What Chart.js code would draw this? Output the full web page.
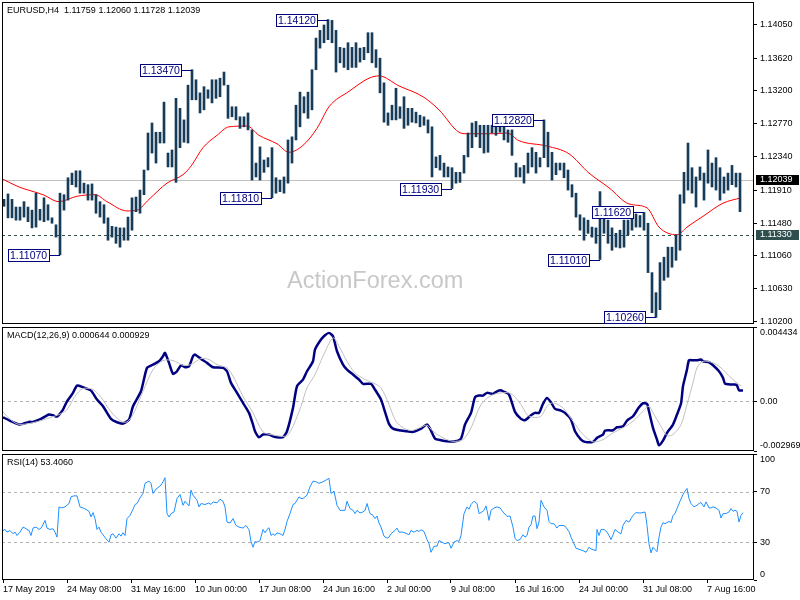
<!DOCTYPE html>
<html lang="en">
<head>
<meta charset="UTF-8">
<title>EURUSD H4</title>
<script src="https://cdn.jsdelivr.net/npm/chart.js"></script>
<style>
    body { margin: 0; background: #fff; }
    #wrap { position: relative; width: 800px; height: 600px; }
    canvas { position: absolute; left: 0; }
    #priceCanvas { top: 0; }
    #macdCanvas { top: 325px; }
    #rsiCanvas { top: 452px; }
</style>
</head>
<body>
<div id="wrap">
    <canvas id="priceCanvas" width="800" height="325"></canvas>
    <canvas id="macdCanvas" width="800" height="127"></canvas>
    <canvas id="rsiCanvas" width="800" height="148"></canvas>
</div>

<script>
    // time axis (bar index of each H4 label)
    const timeLabels = ['17 May 2019', '24 May 08:00', '31 May 16:00', '10 Jun 00:00', '17 Jun 08:00', '24 Jun 16:00',
        '2 Jul 00:00', '9 Jul 08:00', '16 Jul 16:00', '24 Jul 00:00', '31 Jul 08:00', '7 Aug 16:00'];
    const labelBars = [0, 32, 64, 96, 128, 160, 192, 224, 256, 288, 320, 352];

    // price ticks on the right axis
    const priceTicks = [1.10200, 1.10630, 1.11060, 1.11480, 1.11910, 1.12340, 1.12770, 1.13200, 1.13620, 1.14050];
    const macdTicks = [-0.002969, 0, 0.004434];
    const rsiTicks = [0, 30, 70, 100];

    // price bars, one entry per pair of H4 bars
    const highs = [
        1.1179, 1.1186, 1.1179, 1.1169, 1.1169, 1.1176, 1.1169, 1.1165, 1.1187, 1.1166,
        1.1181, 1.1172, 1.1155, 1.1146, 1.1187, 1.1185, 1.1207, 1.1213, 1.1216, 1.1216,
        1.1200, 1.1198, 1.1199, 1.1185, 1.1176, 1.1172, 1.1155, 1.1144, 1.1143, 1.1142,
        1.1142, 1.1156, 1.1181, 1.1182, 1.1191, 1.1217, 1.1265, 1.1278, 1.1266, 1.1266,
        1.1305, 1.1239, 1.1243, 1.1310, 1.1297, 1.1282, 1.1327, 1.1347, 1.1334, 1.1317,
        1.1325, 1.1321, 1.1334, 1.1334, 1.1336, 1.1344, 1.1327, 1.1299, 1.1299, 1.1286,
        1.1286, 1.1291, 1.1269, 1.1226, 1.1247, 1.1230, 1.1233, 1.1246, 1.1207, 1.1204,
        1.1208, 1.1256, 1.1260, 1.1301, 1.1318, 1.1312, 1.1318, 1.1347, 1.1388, 1.1398,
        1.1405, 1.1412, 1.1411, 1.1398, 1.1376, 1.1375, 1.1382, 1.1376, 1.1382, 1.1375,
        1.1376, 1.1395, 1.1395, 1.1373, 1.1362, 1.1330, 1.1291, 1.1301, 1.1323, 1.1299,
        1.1312, 1.1297, 1.1297, 1.1292, 1.1288, 1.1286, 1.1282, 1.1273, 1.1234, 1.1236,
        1.1226, 1.1221, 1.1220, 1.1214, 1.1214, 1.1236, 1.1265, 1.1278, 1.1280, 1.1275,
        1.1275, 1.1275, 1.1275, 1.1278, 1.1280, 1.1275, 1.1269, 1.1269, 1.1226, 1.1220,
        1.1223, 1.1239, 1.1246, 1.1240, 1.1233, 1.1282, 1.1266, 1.1240, 1.1226, 1.1226,
        1.1226, 1.1217, 1.1198, 1.1187, 1.1159, 1.1155, 1.1152, 1.1143, 1.1142, 1.1189,
        1.1156, 1.1152, 1.1142, 1.1135, 1.1139, 1.1152, 1.1152, 1.1156, 1.1160, 1.1158,
        1.1162, 1.1148, 1.1084, 1.1058, 1.1097, 1.1104, 1.1117, 1.1117, 1.1133, 1.1185,
        1.1214, 1.1252, 1.1220, 1.1208, 1.1221, 1.1213, 1.1243, 1.1226, 1.1233, 1.1220,
        1.1208, 1.1213, 1.1223, 1.1213, 1.1213
    ];
    const lows = [
        1.1170, 1.1155, 1.1155, 1.1152, 1.1152, 1.1156, 1.1150, 1.1142, 1.1143, 1.1152,
        1.1150, 1.1152, 1.1148, 1.1130, 1.1107, 1.1165, 1.1178, 1.1198, 1.1195, 1.1187,
        1.1187, 1.1178, 1.1178, 1.1161, 1.1156, 1.1148, 1.1126, 1.1130, 1.1122, 1.1117,
        1.1126, 1.1126, 1.1139, 1.1163, 1.1161, 1.1185, 1.1217, 1.1239, 1.1226, 1.1252,
        1.1252, 1.1221, 1.1221, 1.1201, 1.1246, 1.1253, 1.1252, 1.1308, 1.1308, 1.1291,
        1.1295, 1.1310, 1.1304, 1.1310, 1.1312, 1.1327, 1.1284, 1.1286, 1.1282, 1.1271,
        1.1273, 1.1269, 1.1204, 1.1208, 1.1204, 1.1214, 1.1221, 1.1181, 1.1187, 1.1189,
        1.1187, 1.1200, 1.1226, 1.1256, 1.1273, 1.1291, 1.1284, 1.1295, 1.1347, 1.1375,
        1.1382, 1.1386, 1.1382, 1.1344, 1.1356, 1.1350, 1.1347, 1.1350, 1.1350, 1.1357,
        1.1360, 1.1369, 1.1356, 1.1350, 1.1317, 1.1279, 1.1275, 1.1282, 1.1282, 1.1284,
        1.1271, 1.1275, 1.1279, 1.1278, 1.1273, 1.1275, 1.1265, 1.1208, 1.1220, 1.1217,
        1.1208, 1.1208, 1.1193, 1.1200, 1.1201, 1.1213, 1.1234, 1.1246, 1.1260, 1.1246,
        1.1239, 1.1240, 1.1265, 1.1262, 1.1266, 1.1256, 1.1253, 1.1236, 1.1208, 1.1208,
        1.1200, 1.1213, 1.1221, 1.1213, 1.1221, 1.1233, 1.1221, 1.1204, 1.1211, 1.1217,
        1.1207, 1.1191, 1.1182, 1.1156, 1.1139, 1.1126, 1.1135, 1.1130, 1.1122, 1.1101,
        1.1135, 1.1122, 1.1113, 1.1117, 1.1116, 1.1117, 1.1133, 1.1139, 1.1143, 1.1143,
        1.1139, 1.1084, 1.1032, 1.1026, 1.1036, 1.1074, 1.1078, 1.1091, 1.1100, 1.1113,
        1.1174, 1.1191, 1.1187, 1.1169, 1.1204, 1.1178, 1.1200, 1.1195, 1.1191, 1.1178,
        1.1187, 1.1191, 1.1198, 1.1195, 1.1163
    ];

    // red moving average
    const maBars = [0, 8, 20, 28, 37, 46, 52, 62, 67, 73, 82, 90, 94, 100, 107, 113, 122, 128, 137, 143,
        150, 157, 163, 173, 183, 188, 198, 210, 218, 228, 232, 245, 252, 258, 272, 283, 293, 303, 313, 322,
        328, 337, 342, 350, 360, 369];
    const maVals = [1.1205, 1.1195, 1.1185, 1.1176, 1.1183, 1.1185, 1.1176, 1.1164, 1.1165, 1.1179,
        1.1200, 1.1211, 1.1222, 1.1246, 1.1262, 1.1273, 1.1274, 1.1262, 1.1251, 1.1240,
        1.1249, 1.1271, 1.1299, 1.1319, 1.1336, 1.1339, 1.1326, 1.1312, 1.1295, 1.1266,
        1.1264, 1.1264, 1.1265, 1.1255, 1.1248, 1.1238, 1.1213, 1.1194, 1.1173, 1.1168,
        1.1143, 1.1133, 1.1143, 1.1157, 1.1174, 1.1181];

    // swing labels
    const pivotSlots = [14, 47, 67, 81, 112, 135, 149, 160, 163];
    const pivotVals = [1.1107, 1.1347, 1.1181, 1.1412, 1.1193, 1.1282, 1.1101, 1.1162, 1.1026];
    const lastPrice = 1.12039;
    const levelPrice = 1.11330;

    // MACD(12,26,9)
    const macdBars = [0, 4, 8, 10, 13, 15, 19, 23, 25, 27,
        30, 32, 35, 37, 40, 44, 47, 50, 54, 57,
        60, 63, 65, 69, 72, 75, 78, 80, 81, 83,
        85, 87, 89, 91, 93, 95, 96, 99, 102, 105,
        110, 112, 114, 117, 120, 123, 125, 126, 128, 130,
        133, 135, 137, 140, 142, 145, 147, 150, 152, 155,
        156, 159, 161, 163, 165, 167, 170, 172, 175, 178,
        180, 184, 186, 189, 191, 193, 195, 199, 202, 205,
        209, 212, 214, 216, 219, 222, 226, 229, 231, 234,
        236, 238, 240, 242, 245, 247, 249, 250, 253, 256,
        259, 261, 264, 266, 268, 270, 272, 274, 276, 279,
        281, 284, 286, 289, 291, 295, 297, 300, 301, 305,
        307, 310, 312, 315, 318, 320, 322, 323, 325, 327,
        328, 330, 332, 335, 337, 339, 340, 342, 343, 345,
        347, 349, 350, 353, 355, 358, 360, 361, 364, 366,
        367, 368, 370];
    const macdVals = [-0.000955, -0.001194, -0.001391, -0.001349, -0.00123, -0.00123, -0.001051, -0.000794, -0.000836, -0.000913,
        -0.000496, 0, 0.000501, 0.000937, 0.000836, 0.000639, 0.000101, -0.000299, -0.001051, -0.001254,
        -0.001331, -0.001093, -0.000299, 0.000597, 0.001994, 0.002191, 0.002388, 0.002687, 0.00289, 0.002292,
        0.001636, 0.001791, 0.002149, 0.00203, 0.00209, 0.002687, 0.002788, 0.002531, 0.002292, 0.00203,
        0.001994, 0.001791, 0.001098, 0.000501, -0.000096, -0.000693, -0.001391, -0.001791, -0.002149, -0.001988,
        -0.001988, -0.00209, -0.002149, -0.002149, -0.001791, -0.000394, 0.000896, 0.001295, 0.001791, 0.002388,
        0.003086, 0.003683, 0.00394, 0.004083, 0.00388, 0.002985, 0.002191, 0.001892, 0.001594, 0.001295,
        0.001039, 0.001039, 0.000698, 0.000101, -0.000633, -0.001349, -0.00163, -0.001749, -0.001791, -0.001827,
        -0.00163, -0.001391, -0.001749, -0.002227, -0.002328, -0.002388, -0.002388, -0.002227, -0.001391, -0.000693,
        0.000239, 0.00034, 0.00034, 0.000501, 0.000442, 0.000597, 0.000657, 0.000597, 0.0004, -0.000633,
        -0.001051, -0.001134, -0.000836, -0.000693, -0.000693, -0.000155, 0.000203, -0.00006, -0.000454, -0.000555,
        -0.000693, -0.001093, -0.001791, -0.002287, -0.002424, -0.002424, -0.002185, -0.001988, -0.001749, -0.001731,
        -0.001552, -0.001493, -0.001152, -0.000896, -0.000358, -0.000119, -0.000155, -0.000597, -0.001588, -0.002287,
        -0.002627, -0.002346, -0.001887, -0.001391, -0.000794, -0.000137, 0.000896, 0.001892, 0.002448, 0.002448,
        0.002448, 0.00249, 0.002388, 0.002328, 0.002149, 0.001791, 0.001397, 0.001057, 0.000997, 0.000997,
        0.000937, 0.000657, 0.000644];
    const sigBars = [-1, 2, 7, 12, 19, 24, 28, 32, 36, 40,
        45, 49, 54, 59, 62, 65, 70, 75, 80, 85,
        90, 94, 99, 103, 107, 112, 115, 120, 125, 130,
        134, 139, 142, 145, 149, 152, 156, 160, 165, 168,
        172, 176, 181, 185, 189, 193, 196, 199, 204, 209,
        212, 215, 220, 225, 230, 234, 239, 244, 249, 254,
        259, 262, 265, 269, 272, 275, 280, 285, 290, 295,
        300, 305, 310, 315, 320, 323, 325, 329, 332, 335,
        339, 342, 345, 347, 350, 355, 359, 364, 368, 369];
    const sigVals = [-0.000496, -0.000896, -0.001349, -0.001349, -0.001152, -0.000955, -0.000794, -0.000496, 0.000299, 0.000758,
        0.000698, 0.000239, -0.000633, -0.001194, -0.00123, -0.000794, 0.000597, 0.001892, 0.00243, 0.00243,
        0.002149, 0.002191, 0.002549, 0.00249, 0.002191, 0.001994, 0.001493, 0.000299, -0.000693, -0.001827,
        -0.001988, -0.00209, -0.002048, -0.001493, -0.000299, 0.0008, 0.001594, 0.002687, 0.003785, 0.003284,
        0.002388, 0.001695, 0.001295, 0.001098, 0.0008, -0.000197, -0.001093, -0.0015, -0.001749, -0.001552,
        -0.001433, -0.001791, -0.002185, -0.002388, -0.002287, -0.001588, -0.000197, 0.00034, 0.000501, 0.00046,
        -0.000197, -0.000794, -0.000955, -0.000896, -0.000299, -0.000096, -0.000394, -0.001194, -0.001988, -0.002424,
        -0.002287, -0.001887, -0.001588, -0.001194, -0.000597, -0.000299, -0.000693, -0.001493, -0.002048, -0.001988,
        -0.001391, -0.000197, 0.001098, 0.001994, 0.002388, 0.002292, 0.001994, 0.001397, 0.000997, 0.000929];

    // RSI(14)
    const rsiBars = [0, 1, 2, 3.5, 5, 6, 7, 8.5, 10, 11,
        12, 13, 14, 15, 16.5, 18, 19, 20, 21, 22,
        23.5, 25, 26, 27, 28, 29, 31, 33, 34, 35.5,
        37, 38.5, 40, 41.5, 43, 44, 45, 46, 47, 48,
        49, 50, 51.5, 53, 54, 55, 56.5, 58, 59, 60,
        61, 62, 63.5, 65, 66, 67, 68.5, 70, 71, 73,
        74, 75, 76.5, 78, 79, 80, 81, 82, 83, 84,
        85.5, 87, 88.5, 90, 91, 93, 94, 95, 97, 98,
        99, 101, 103, 104, 105, 107, 108.5, 110, 111, 112,
        113.5, 115, 116.5, 118, 120, 121.5, 123, 124, 125, 126,
        127, 128.5, 130, 131, 132, 133, 134, 135, 136, 137,
        138.5, 140, 141, 142, 143.5, 145, 146, 148, 149, 150,
        152, 153.5, 155, 156.5, 158, 160, 161.5, 163, 164, 165.5,
        167, 168.5, 170, 171, 172, 173.5, 175, 176, 177, 178.5,
        180, 181, 182, 183.5, 185, 186, 187, 188, 189, 190.5,
        192, 193, 194, 196, 197, 198, 200, 202, 203, 204,
        205.5, 207, 208, 209, 210.5, 212, 213, 214, 215.5, 217,
        218, 219, 221, 222, 223, 224, 225.5, 227, 228, 229,
        230.5, 232, 233, 234, 235.5, 237, 238, 239, 240.5, 241.5,
        242, 243, 244, 245.5, 247, 248.5, 250, 252, 253.5, 255,
        256, 257, 258.5, 260, 261, 262, 263, 264, 265, 266,
        267, 268, 269, 270.5, 272, 273, 274, 275.5, 277, 278,
        280, 281, 283, 284, 285, 286.5, 288.5, 290, 291.5, 293,
        294, 295, 296.5, 297, 298, 299, 300.5, 302, 303, 304,
        305, 306, 308, 309, 310, 311.5, 313, 314, 315, 316.5,
        318, 319, 321, 321.5, 322, 323, 324, 325, 326, 327,
        328, 329, 330, 331, 333, 334, 335, 336, 337, 338.5,
        340, 341, 342, 343, 344, 345.5, 347, 348, 349, 350.5,
        351.5, 353, 354, 355, 356.5, 358, 359, 360, 361.5, 363,
        364, 365, 366, 367, 368, 369, 370];
    const rsiVals = [39.3, 40.1, 38, 39.3, 36.7, 38, 35.3, 38, 42, 41.2,
        40.1, 39.3, 35.3, 41.2, 42, 40.1, 41.2, 43.9, 47.3, 41.2,
        40.1, 40.7, 38, 34, 58, 57.2, 58, 60.7, 66, 66.8,
        66.8, 58, 57.2, 56.1, 54.5, 50, 53.5, 48.7, 40.1, 42,
        38, 35.9, 32.7, 30, 35.9, 36.7, 33.2, 36.7, 34.8, 37.5,
        35.3, 48.7, 51.3, 56.1, 59.9, 60.7, 65.2, 68.7, 76.7, 78.5,
        76.7, 68.7, 72.1, 74, 75.3, 78, 81.2, 52.7, 50, 52.7,
        54, 64.7, 67.9, 59.3, 62.5, 58.8, 71.3, 67.3, 63.3, 58,
        60.7, 59.9, 61.2, 59.9, 62, 61.2, 64.1, 62.5, 58, 46,
        45.2, 48.7, 43.3, 42, 41.2, 43.3, 39.9, 30.5, 26, 30.5,
        30, 31.3, 40.1, 37.5, 40.1, 41.5, 35.3, 36.7, 35.3, 37.5,
        36.7, 35.3, 40.1, 46.5, 52.7, 59.9, 60.7, 66, 64.7, 64.7,
        67.3, 74, 78.5, 78, 76.7, 78, 79.3, 80.7, 68.7, 70.5,
        59.3, 55.3, 55.3, 55.3, 62.5, 56.7, 55.3, 52.7, 55.3, 53.2,
        54, 55.3, 60.7, 52.7, 51.3, 48.7, 50.8, 45.2, 42, 34.8,
        33.2, 34, 36.7, 39.3, 41.2, 38, 38, 36.7, 35.9, 39.3,
        38, 39.3, 38.5, 39.9, 38.5, 32.1, 28.7, 22, 26.8, 26.8,
        31.3, 30.5, 28.7, 29.5, 29.5, 25.2, 30, 31.3, 30.5, 35.3,
        52.7, 58, 56.1, 59.9, 62.5, 60.7, 52.7, 53.5, 55.3, 58.8,
        55.3, 47.3, 55.3, 57.2, 58, 57.2, 54, 50.5, 50.8, 42,
        33.2, 31.3, 32.1, 35.9, 34, 35.3, 42, 43.9, 50.8, 50.8,
        40.7, 46, 63.3, 58, 55.3, 46.5, 44.7, 44.7, 41.2, 43.3,
        43.3, 42.8, 38.5, 34, 30.5, 25.2, 24.1, 23.3, 22, 26,
        24.7, 24.1, 23.3, 40.1, 35.3, 40.1, 40.1, 38, 35.3, 32.1,
        35.9, 40.1, 37.5, 36.7, 43.3, 47.3, 46, 48.7, 51.3, 53.5,
        53.2, 53.2, 54, 49.2, 43.3, 28.7, 21.5, 26, 24.1, 22.5,
        34, 42, 45.5, 44.7, 46.5, 45.5, 51.3, 52.7, 56.7, 62.5,
        67.9, 70.5, 72.7, 64.7, 60.7, 58, 59.3, 60.7, 61.5, 58,
        62, 57.2, 57.2, 58, 57.2, 55.3, 49.2, 52.7, 52.7, 54,
        56.7, 54.5, 55.3, 54.5, 46, 51.3, 53.4];

    const FAMILY = '"Liberation Sans", Arial, sans-serif';
    const SMALL = '9px ' + FAMILY;
    Chart.defaults.font.family = FAMILY;
    Chart.defaults.font.size = 9;
    Chart.defaults.color = '#000';

    function xScale(show) {
        return {
            type: 'linear', min: -0.5, max: 375.5, offset: false, display: show,
            afterBuildTicks: s => { s.ticks = labelBars.map(v => ({ value: v })); },
            afterFit: s => {
                if (!show) return;
                s.height = 20; s.paddingLeft = 0; s.paddingRight = 0;
            },
            grid: { drawOnChartArea: false, tickLength: 3, color: '#000', offset: false },
            border: { display: false },
            ticks: { align: 'start', maxRotation: 0, minRotation: 0, autoSkip: false, padding: 1,
                callback: (v, i) => timeLabels[i] }
        };
    }

    function yScale(min, max, values, fmt) {
        return {
            position: 'right', min: min, max: max,
            afterBuildTicks: s => { s.ticks = values.map(v => ({ value: v })); },
            afterFit: s => { s.width = 46; s.paddingTop = 0; s.paddingBottom = 0; },
            grid: { drawOnChartArea: false, tickLength: 3, color: '#000' },
            border: { display: false },
            ticks: { padding: 3, autoSkip: false, callback: fmt }
        };
    }

    // frame, title and level lines of one panel
    function panel(title, levels, under, over) {
        return {
            id: 'panel',
            beforeDatasetsDraw(chart) {
                const ctx = chart.ctx, a = chart.chartArea, y = chart.scales.y;
                ctx.save();
                if (under) under(chart);
                levels.forEach(l => {
                    const py = Math.round(y.getPixelForValue(l.value)) + 0.5;
                    ctx.strokeStyle = l.color;
                    ctx.lineWidth = 1;
                    ctx.setLineDash(l.dash || []);
                    ctx.beginPath();
                    ctx.moveTo(a.left, py);
                    ctx.lineTo(a.right, py);
                    ctx.stroke();
                });
                ctx.restore();
            },
            afterDraw(chart) {
                const ctx = chart.ctx, a = chart.chartArea;
                ctx.save();
                ctx.strokeStyle = '#000';
                ctx.lineWidth = 1;
                ctx.strokeRect(a.left + 0.5, a.top + 0.5, a.right - a.left - 1, a.bottom - a.top - 1);
                ctx.fillStyle = '#000';
                ctx.font = SMALL;
                ctx.textBaseline = 'middle';
                ctx.textAlign = 'left';
                ctx.fillText(title, a.left + 5, a.top + 9);
                if (over) over(chart);
                ctx.restore();
            }
        };
    }

    function watermark(chart) {
        const ctx = chart.ctx;
        ctx.font = '23.5px ' + FAMILY;
        ctx.fillStyle = '#c8c8c8';
        ctx.textBaseline = 'alphabetic';
        ctx.fillText('ActionForex.com', 287, 288);
    }

    function priceMarks(chart) {
        const ctx = chart.ctx, a = chart.chartArea, x = chart.scales.x, y = chart.scales.y;
        // swing labels
        ctx.font = '10.5px ' + FAMILY;
        ctx.textBaseline = 'middle';
        ctx.lineWidth = 1;
        pivotSlots.forEach((k, n) => {
            const v = pivotVals[n];
            const txt = v.toFixed(5);
            const px = Math.round(x.getPixelForValue(2 * k + 0.5));
            const py = Math.round(y.getPixelForValue(v));
            const w = Math.ceil(ctx.measureText(txt).width) + 4;
            const right = px - 10, left = right - w;
            ctx.strokeStyle = '#000080';
            ctx.beginPath();
            ctx.moveTo(right, py + 0.5);
            ctx.lineTo(px, py + 0.5);
            ctx.stroke();
            ctx.fillStyle = '#fff';
            ctx.fillRect(left, py - 6, w, 12);
            ctx.strokeRect(left + 0.5, py - 5.5, w - 1, 12);
            ctx.fillStyle = '#000080';
            ctx.fillText(txt, left + 2, py + 1);
        });
        // right axis price boxes
        ctx.font = SMALL;
        [[lastPrice, '#000'], [levelPrice, '#2f4f4f']].forEach(([v, bg]) => {
            const py = Math.round(y.getPixelForValue(v));
            ctx.fillStyle = bg;
            ctx.fillRect(a.right + 2, py - 5, 43, 10);
            ctx.fillStyle = '#fff';
            ctx.fillText(v.toFixed(5), a.right + 6, py);
        });
    }

    const baseOptions = {
        responsive: false, animation: false, devicePixelRatio: 1, events: [],
        plugins: { legend: { display: false }, tooltip: { enabled: false } }
    };

    // price panel
    new Chart(document.getElementById('priceCanvas'), {
        type: 'line',
        data: {
            datasets: [{
                type: 'bar',
                data: highs.map((h, k) => ({ x: 2 * k + 0.5, y: [lows[k], h] })),
                backgroundColor: '#163c5a',
                borderWidth: 0,
                barThickness: 2,
                grouped: false
            }, {
                data: maBars.map((b, i) => ({ x: b, y: maVals[i] })),
                borderColor: '#ff0000',
                borderWidth: 1,
                pointRadius: 0,
                cubicInterpolationMode: 'monotone'
            }]
        },
        options: {
            ...baseOptions,
            layout: { padding: { left: 2, top: 2, right: 0, bottom: 1 } },
            scales: {
                x: xScale(false),
                y: yScale(1.10174, 1.14348, priceTicks, v => v.toFixed(5))
            }
        },
        plugins: [panel('EURUSD,H4  1.11759 1.12060 1.11728 1.12039',
            [{ value: lastPrice, color: '#c0c0c0' }, { value: levelPrice, color: '#2f4f4f', dash: [3, 3] }],
            watermark, priceMarks)]
    });

    // MACD panel
    new Chart(document.getElementById('macdCanvas'), {
        type: 'line',
        data: {
            datasets: [{
                data: sigBars.map((b, i) => ({ x: b, y: sigVals[i] })),
                borderColor: '#c0c0c0',
                borderWidth: 1,
                pointRadius: 0,
                tension: 0.3
            }, {
                data: macdBars.map((b, i) => ({ x: b, y: macdVals[i] })),
                borderColor: '#000080',
                borderWidth: 2.5,
                pointRadius: 0,
                tension: 0.2,
                borderJoinStyle: 'round'
            }]
        },
        options: {
            ...baseOptions,
            layout: { padding: { left: 2, top: 2, right: 0, bottom: 1 } },
            scales: {
                x: xScale(false),
                y: yScale(-0.002969, 0.004434, macdTicks, v => {
                    if (v === 0) return '0.00';
                    return v > 0 ? ['', v.toFixed(6)] : [v.toFixed(6), ''];
                })
            }
        },
        plugins: [panel('MACD(12,26,9) 0.000644 0.000929', [{ value: 0, color: '#b4b4b4', dash: [3, 3] }])]
    });

    // RSI panel
    new Chart(document.getElementById('rsiCanvas'), {
        type: 'line',
        data: {
            datasets: [{
                data: rsiBars.map((b, i) => ({ x: b, y: rsiVals[i] })),
                borderColor: '#1e90ff',
                borderWidth: 1,
                pointRadius: 0,
                tension: 0
            }]
        },
        options: {
            ...baseOptions,
            layout: { padding: { left: 2, top: 2, right: 0, bottom: 0 } },
            scales: {
                x: xScale(true),
                y: yScale(0, 100, rsiTicks, v => {
                    if (v === 100) return ['', '100'];
                    if (v === 0) return ['0', ''];
                    return String(v);
                })
            }
        },
        plugins: [panel('RSI(14) 53.4060',
            [{ value: 70, color: '#b4b4b4', dash: [3, 3] }, { value: 30, color: '#b4b4b4', dash: [3, 3] }])]
    });
</script>
</body>
</html>
